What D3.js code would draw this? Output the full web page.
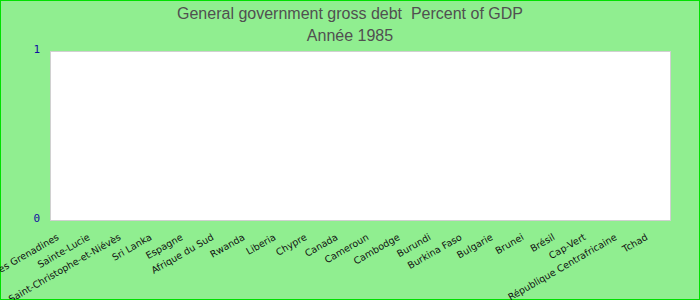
<!DOCTYPE html>
<html>
<head>
<meta charset="utf-8">
<script src="https://cdn.jsdelivr.net/npm/d3@7"></script>
<style>
  body { margin: 0; background: #fff; }
  svg { display: block; }
  .title { white-space: pre; }
</style>
</head>
<body>
<svg width="700" height="300"></svg>
<script>
// countries on the x axis (no values for 1985)
var countries = ["Saint-Vincent-et-les Grenadines", "Sainte-Lucie", "Saint-Christophe-et-Niévès",
  "Sri Lanka", "Espagne", "Afrique du Sud", "Rwanda", "Liberia", "Chypre", "Canada",
  "Cameroun", "Cambodge", "Burundi", "Burkina Faso", "Bulgarie", "Brunei", "Brésil",
  "Cap-Vert", "République Centrafricaine", "Tchad"];
var debt = [null, null, null, null, null, null, null, null, null, null,
  null, null, null, null, null, null, null, null, null, null];
var yTicks = [0, 1];
var titles = ["General government gross debt  Percent of GDP", "Année 1985"];

var svg = d3.select("svg"),
    width = +svg.attr("width"),
    height = +svg.attr("height");

var margin = {top: 51, right: 30, bottom: 80, left: 50};

svg.append("rect")
    .attr("x", 0.5).attr("y", 0.5)
    .attr("width", width - 1).attr("height", height - 1)
    .attr("fill", "#90ee90")
    .attr("stroke", "#00e000");

var x = d3.scaleBand()
    .domain(countries)
    .range([margin.left, width - margin.right]);

var y = d3.scaleLinear()
    .domain([0, 1])
    .range([height - margin.bottom, margin.top]);

// plot area
svg.append("rect")
    .attr("x", margin.left + 0.5)
    .attr("y", margin.top + 0.5)
    .attr("width", width - margin.left - margin.right)
    .attr("height", height - margin.top - margin.bottom)
    .attr("fill", "#fff")
    .attr("stroke", "#d0d0d0");

// bars (all empty)
svg.selectAll(".bar")
    .data(countries.map(function(c, i) { return {name: c, v: debt[i]}; })
      .filter(function(d) { return d.v != null; }))
    .enter().append("rect")
    .attr("class", "bar")
    .attr("x", function(d) { return x(d.name) + 4; })
    .attr("width", x.bandwidth() - 8)
    .attr("y", function(d) { return y(d.v); })
    .attr("height", function(d) { return y(0) - y(d.v); })
    .attr("fill", "#4682b4");

// titles
svg.selectAll(".title")
    .data(titles)
    .enter().append("text")
    .attr("class", "title")
    .attr("x", width / 2)
    .attr("y", function(d, i) { return 19 + i * 22; })
    .attr("text-anchor", "middle")
    .attr("font-family", "Liberation Sans, Arial, sans-serif")
    .attr("font-size", 16)
    .attr("fill", "#505050")
    .text(function(d) { return d; });

// y axis
var yAxis = svg.append("g")
    .attr("transform", "translate(" + (margin.left - 10) + ",0)")
    .call(d3.axisLeft(y).tickValues(yTicks).tickFormat(d3.format("d")).tickSize(0).tickPadding(0));
yAxis.select(".domain").remove();
yAxis.selectAll("text")
    .attr("font-family", "DejaVu Sans Mono, monospace")
    .attr("font-size", 11)
    .attr("fill", "#1010a0")
    .attr("dy", "0.1em");

// x axis
var xAxis = svg.append("g")
    .attr("transform", "translate(0," + (height - margin.bottom) + ")")
    .call(d3.axisBottom(x).tickSize(0).tickPadding(0));
xAxis.select(".domain").remove();
xAxis.selectAll("text")
    .attr("font-family", "DejaVu Sans, sans-serif")
    .attr("font-size", 9.5)
    .attr("fill", "#111")
    .attr("text-anchor", "end")
    .attr("dy", "0")
    .attr("transform", "translate(-6,19) rotate(-30)");
</script>
</body>
</html>
